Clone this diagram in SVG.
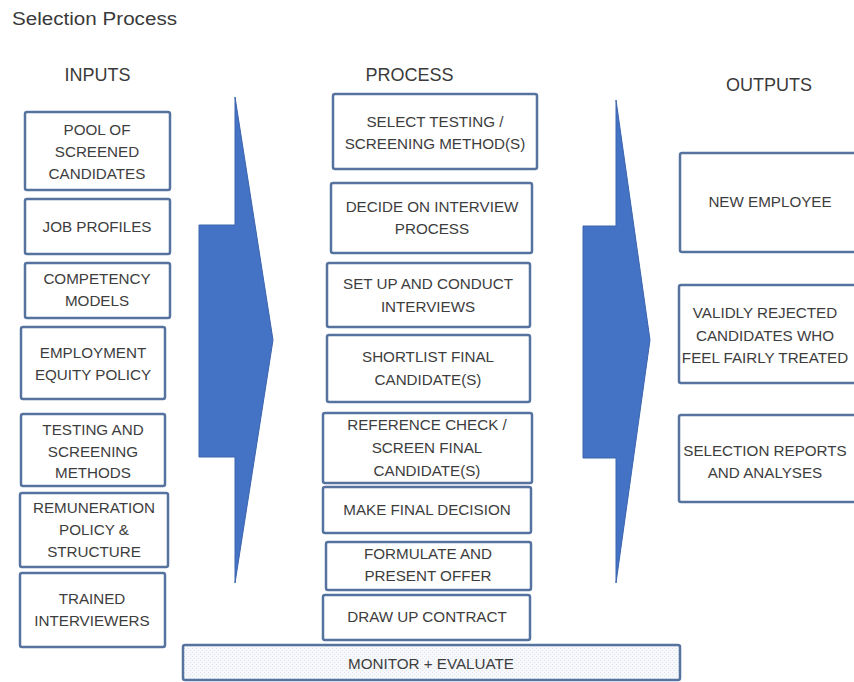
<svg xmlns="http://www.w3.org/2000/svg" width="854" height="682" viewBox="0 0 854 682">
<style>
.box{fill:#ffffff;stroke:#56739f;stroke-width:2.5}
.t{font-family:"Liberation Sans",Arial,sans-serif;font-size:15.2px;fill:#3d3d3d;text-anchor:middle}
.h{font-family:"Liberation Sans",Arial,sans-serif;font-size:18px;fill:#3a3a3a;text-anchor:middle}
.arrow{fill:#4472c4;stroke:#3b64ad;stroke-width:1}
</style>
<defs>
<pattern id="dots" width="4" height="4" patternUnits="userSpaceOnUse">
<rect width="4" height="4" fill="#f6f8fb"/>
<rect x="0" y="0" width="1" height="1" fill="#dfe4ec"/>
<rect x="2" y="2" width="1" height="1" fill="#dfe4ec"/>
</pattern>
</defs>
<rect width="854" height="682" fill="#ffffff"/>
<text x="12" y="25" font-family="'Liberation Sans',Arial,sans-serif" font-size="17.5" fill="#3a3a3a" textLength="165" lengthAdjust="spacingAndGlyphs">Selection Process</text>
<text class="h" x="97.5" y="81">INPUTS</text>
<text class="h" x="409.5" y="81">PROCESS</text>
<text class="h" x="769" y="91">OUTPUTS</text>

<g id="connectors">
<polygon class="arrow" points="235,97 273,340 235,583 235,457 199,457 199,225 235,225"/>
<polygon class="arrow" points="616,100 650,340 616,583 616,458 583,458 583,226 616,226"/>
</g>

<g id="in1"><rect class="box" x="25" y="112" width="145" height="78" rx="2"/><text class="t" x="97" y="135">POOL OF</text><text class="t" x="97" y="157">SCREENED</text><text class="t" x="97" y="179">CANDIDATES</text></g>
<g id="in2"><rect class="box" x="25" y="199" width="145" height="55" rx="2"/><text class="t" x="97" y="232">JOB PROFILES</text></g>
<g id="in3"><rect class="box" x="25" y="263" width="145" height="55" rx="2"/><text class="t" x="97" y="284">COMPETENCY</text><text class="t" x="97" y="306">MODELS</text></g>
<g id="in4"><rect class="box" x="21" y="327" width="144" height="72" rx="2"/><text class="t" x="93" y="358">EMPLOYMENT</text><text class="t" x="93" y="380">EQUITY POLICY</text></g>
<g id="in5"><rect class="box" x="21" y="414" width="144" height="72" rx="2"/><text class="t" x="93" y="435">TESTING AND</text><text class="t" x="93" y="457">SCREENING</text><text class="t" x="93" y="478">METHODS</text></g>
<g id="in6"><rect class="box" x="20" y="493" width="148" height="74" rx="2"/><text class="t" x="94" y="513">REMUNERATION</text><text class="t" x="94" y="535">POLICY &amp;</text><text class="t" x="94" y="557">STRUCTURE</text></g>
<g id="in7"><rect class="box" x="20" y="573" width="145" height="74" rx="2"/><text class="t" x="92" y="604">TRAINED</text><text class="t" x="92" y="626">INTERVIEWERS</text></g>

<g id="p1"><rect class="box" x="333" y="94" width="204" height="75" rx="2"/><text class="t" x="435" y="127">SELECT TESTING /</text><text class="t" x="435" y="149">SCREENING METHOD(S)</text></g>
<g id="p2"><rect class="box" x="331" y="183" width="201" height="70" rx="2"/><text class="t" x="432" y="212">DECIDE ON INTERVIEW</text><text class="t" x="432" y="234">PROCESS</text></g>
<g id="p3"><rect class="box" x="327" y="263" width="203" height="64" rx="2"/><text class="t" x="428" y="289">SET UP AND CONDUCT</text><text class="t" x="428" y="312">INTERVIEWS</text></g>
<g id="p4"><rect class="box" x="327" y="335" width="203" height="67" rx="2"/><text class="t" x="428" y="362">SHORTLIST FINAL</text><text class="t" x="428" y="385">CANDIDATE(S)</text></g>
<g id="p5"><rect class="box" x="323" y="413" width="209" height="70" rx="2"/><text class="t" x="427" y="430">REFERENCE CHECK /</text><text class="t" x="427" y="453">SCREEN FINAL</text><text class="t" x="427" y="476">CANDIDATE(S)</text></g>
<g id="p6"><rect class="box" x="323" y="487" width="208" height="46" rx="2"/><text class="t" x="427" y="515">MAKE FINAL DECISION</text></g>
<g id="p7"><rect class="box" x="326" y="542" width="205" height="48" rx="2"/><text class="t" x="428" y="559">FORMULATE AND</text><text class="t" x="428" y="581">PRESENT OFFER</text></g>
<g id="p8"><rect class="box" x="323" y="595" width="207" height="45" rx="2"/><text class="t" x="427" y="622">DRAW UP CONTRACT</text></g>
<g id="monitor"><rect x="183" y="645" width="497" height="35" rx="2" fill="url(#dots)" stroke="#56739f" stroke-width="2.5"/><text class="t" x="431" y="669">MONITOR + EVALUATE</text></g>

<g id="o1"><rect class="box" x="680" y="153" width="190" height="99" rx="2"/><text class="t" x="770" y="207">NEW EMPLOYEE</text></g>
<g id="o2"><rect class="box" x="679" y="285" width="191" height="98" rx="2"/><text class="t" x="765" y="318">VALIDLY REJECTED</text><text class="t" x="765" y="341">CANDIDATES WHO</text><text class="t" x="765" y="363">FEEL FAIRLY TREATED</text></g>
<g id="o3"><rect class="box" x="679" y="415" width="191" height="87" rx="2"/><text class="t" x="765" y="456">SELECTION REPORTS</text><text class="t" x="765" y="478">AND ANALYSES</text></g>
</svg>
